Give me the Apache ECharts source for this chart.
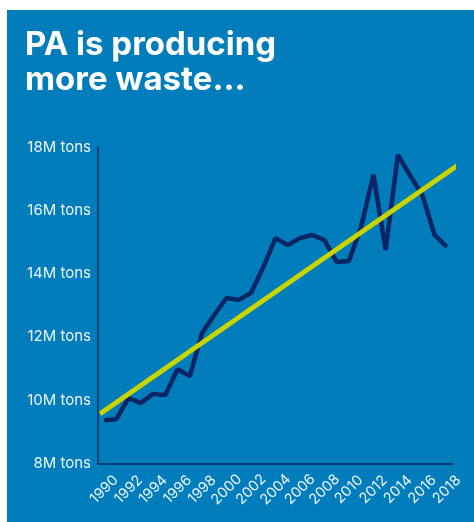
<!DOCTYPE html>
<html>
<head>
<meta charset="utf-8">
<script src="https://cdn.jsdelivr.net/npm/echarts@6/dist/echarts.min.js"></script>
<style>
html,body{margin:0;padding:0;background:#ffffff;}
#chart{width:474px;height:522px;}
</style>
</head>
<body>
<div id="chart"></div>
<script>
const years = ['1990','1991','1992','1993','1994','1995','1996','1997','1998','1999',
  '2000','2001','2002','2003','2004','2005','2006','2007','2008','2009',
  '2010','2011','2012','2013','2014','2015','2016','2017','2018'];
const wasteMillionTons = [9.37, 9.40, 10.07, 9.91, 10.20, 10.16, 10.98, 10.76, 12.12, 12.69,
  13.23, 13.17, 13.39, 14.20, 15.12, 14.90, 15.12, 15.22, 15.06, 14.37,
  14.40, 15.48, 17.12, 14.75, 17.75, 17.10, 16.48, 15.22, 14.84];
const trendYears = [1989.67, 2018.87];
const trendValues = [9.57, 17.42];
const yTicks = [8, 10, 12, 14, 16, 18];
const titleText = 'PA is producing\nmore waste...';

const chart = echarts.init(document.getElementById('chart'));
chart.setOption({
  backgroundColor: '#ffffff',
  animation: false,
  graphic: [{
    type: 'rect', z: -10, left: 7, top: 10,
    shape: { width: 467, height: 512 },
    style: { fill: '#007DBA' }
  }],
  title: {
    text: titleText, left: 20, top: 23,
    textStyle: { color: '#ffffff', fontFamily: 'Inter', fontWeight: 700, fontSize: 33, lineHeight: 35 }
  },
  grid: { left: 98, right: 21, top: 147, bottom: 58.5 },
  xAxis: [{
    type: 'category', data: years, boundaryGap: true,
    axisLine: { lineStyle: { color: '#0b2a66', width: 1.5 } },
    axisTick: { show: false },
    axisLabel: {
      interval: 1, rotate: 45, align: 'center', verticalAlign: 'middle', margin: 26,
      color: '#eef4fa', fontFamily: 'Inter', fontSize: 14.5
    },
    splitLine: { show: false }
  }, {
    type: 'value', min: 1989.5, max: 2018.5, show: false
  }],
  yAxis: {
    type: 'value', min: yTicks[0], max: yTicks[yTicks.length - 1], interval: 2,
    axisLine: { show: true, lineStyle: { color: '#0b2a66', width: 1.5 } },
    axisTick: { show: false },
    splitLine: { show: false },
    axisLabel: {
      margin: 7, color: '#eef4fa', fontFamily: 'Inter', fontSize: 15,
      formatter: v => v + 'M tons'
    }
  },
  series: [{
    type: 'line', data: wasteMillionTons, symbol: 'none',
    lineStyle: { color: '#0b2463', width: 4.5 }, z: 3
  }, {
    type: 'line', xAxisIndex: 1, clip: false, symbol: 'none',
    data: trendYears.map((y, i) => [y, trendValues[i]]),
    lineStyle: { color: '#c8d400', width: 5, cap: 'butt' }, z: 4
  }]
});
</script>
</body>
</html>
